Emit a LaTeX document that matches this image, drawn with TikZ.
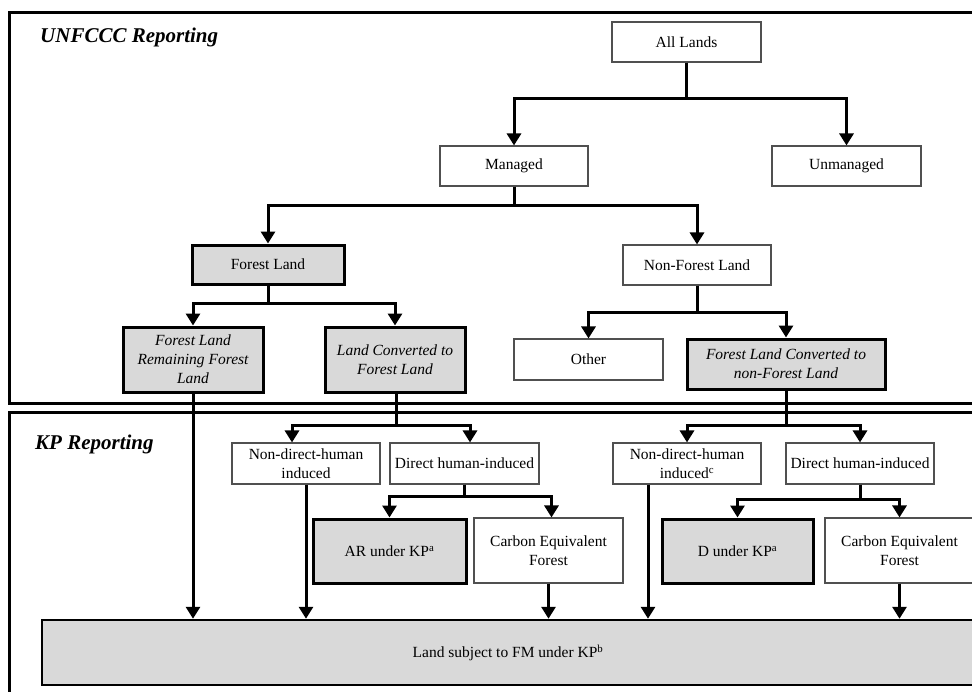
\documentclass[tikz,border=0pt]{standalone}
\usepackage{fontspec}
\setmainfont{Liberation Serif}
\usetikzlibrary{arrows.meta}
\definecolor{boxgray}{HTML}{D9D9D9}
\definecolor{thinline}{HTML}{505050}
\tikzset{
  base/.style={rectangle, align=center, inner sep=0pt, font=\fontsize{15.5}{19}\selectfont},
  thinbox/.style={base, draw=thinline, line width=1.1pt, fill=white},
  thickbox/.style={base, draw=black, line width=3pt, fill=boxgray},
  arr/.style={draw=black, line width=3pt, -{Triangle[width=14pt,length=12pt]}},
  frame/.style={draw=black, line width=3pt},
  ttl/.style={anchor=west, inner sep=0pt, font=\fontsize{21}{24}\selectfont\bfseries\itshape}
}
\begin{document}
\begin{tikzpicture}[x=1pt,y=-1pt]
\clip (0,0) rectangle (972,691);
\fill[white] (0,0) rectangle (972,691);
% frames
\draw[frame] (9,12) rectangle (1000,403);
\draw[frame] (9,412) rectangle (1000,710);
\node[ttl] (t1) at (40,37) {UNFCCC Reporting};
\node[ttl] (t2) at (35,444) {KP Reporting};
% UNFCCC nodes
\node[thinbox, minimum width=149pt, minimum height=40pt] (all) at (686.5,42) {All Lands};
\node[thinbox, minimum width=148pt, minimum height=40pt] (man) at (514,166) {Managed};
\node[thinbox, minimum width=149pt, minimum height=40pt] (unman) at (846.5,166) {Unmanaged};
\node[thickbox, minimum width=152pt, minimum height=39pt] (fl) at (268,264.5) {Forest Land};
\node[thinbox, minimum width=148pt, minimum height=40pt] (nfl) at (697,265) {Non-Forest Land};
\node[thickbox, minimum width=140pt, minimum height=65pt, font=\fontsize{15.5}{19}\selectfont\itshape] (flrfl) at (193,359.5) {Forest Land\\Remaining Forest\\Land};
\node[thickbox, minimum width=140pt, minimum height=65pt, font=\fontsize{15.5}{19}\selectfont\itshape] (lcfl) at (395,359.5) {Land Converted to\\Forest Land};
\node[thinbox, minimum width=149pt, minimum height=41pt] (other) at (588.5,359.5) {Other};
\node[thickbox, minimum width=198pt, minimum height=50pt, font=\fontsize{15.5}{19}\selectfont\itshape] (flcnfl) at (786,364) {Forest Land Converted to\\non-Forest Land};
% KP nodes
\node[thinbox, minimum width=148pt, minimum height=41pt] (ndhiL) at (306,463.5) {Non-direct-human\\induced};
\node[thinbox, minimum width=149pt, minimum height=41pt] (dhiL) at (464.5,463.5) {Direct human-induced};
\node[thickbox, minimum width=153pt, minimum height=64pt] (ar) at (389.5,551) {AR under KP\textsuperscript{a}};
\node[thinbox, minimum width=149pt, minimum height=65pt] (cefL) at (548.5,550.5) {Carbon Equivalent\\Forest};
\node[thinbox, minimum width=148pt, minimum height=41pt] (ndhiR) at (687,463.5) {Non-direct-human\\induced\textsuperscript{c}};
\node[thinbox, minimum width=148pt, minimum height=41pt] (dhiR) at (860,463.5) {Direct human-induced};
\node[thickbox, minimum width=151pt, minimum height=64pt] (d) at (737.5,551) {D under KP\textsuperscript{a}};
\node[thinbox, minimum width=149pt, minimum height=65pt] (cefR) at (899.5,550.5) {Carbon Equivalent\\Forest};
\node[base, draw=black, line width=2.5pt, fill=boxgray, minimum width=932pt, minimum height=65pt] (fm) at (508,652.5) {Land subject to FM under KP\textsuperscript{b}};
% UNFCCC connectors
\draw[arr] (all.south) -- ++(0,36) -| (man.north);
\draw[arr] (all.south) -- ++(0,36) -| (unman.north);
\draw[arr] (man.south) -- ++(0,19) -| (fl.north);
\draw[arr] (man.south) -- ++(0,19) -| (nfl.north);
\draw[arr] (fl.south) -- ++(0,18) -| (flrfl.north);
\draw[arr] (fl.south) -- ++(0,18) -| (lcfl.north);
\draw[arr] (nfl.south) -- ++(0,27) -| (other.north);
\draw[arr] (nfl.south) -- ++(0,27) -| (flcnfl.north);
% KP connectors
\coordinate (ndhiLin) at ([xshift=-14pt]ndhiL.north);
\coordinate (dhiLin) at ([xshift=5.5pt]dhiL.north);
\draw[arr] ([xshift=1pt]lcfl.south) -- ++(0,32) -| (ndhiLin);
\draw[arr] ([xshift=1pt]lcfl.south) -- ++(0,32) -| (dhiLin);
\draw[arr] (dhiL.south) -- ++(0,12) -| (ar.north);
\draw[arr] (dhiL.south) -- ++(0,12) -| ([xshift=3pt]cefL.north);
\draw[arr] (flcnfl.south) -- ++(0,35) -| (ndhiR.north);
\draw[arr] (flcnfl.south) -- ++(0,35) -| (dhiR.north);
\draw[arr] (dhiR.south) -- ++(0,15) -| (d.north);
\draw[arr] (dhiR.south) -- ++(0,15) -| (cefR.north);
% into FM
\coordinate (ndhiRout) at ([xshift=-39pt]ndhiR.south);
\draw[arr] (flrfl.south) -- (flrfl.south |- fm.north);
\draw[arr] (ndhiL.south) -- (ndhiL.south |- fm.north);
\draw[arr] (cefL.south) -- (cefL.south |- fm.north);
\draw[arr] (ndhiRout) -- (ndhiRout |- fm.north);
\draw[arr] (cefR.south) -- (cefR.south |- fm.north);
\end{tikzpicture}
\end{document}
